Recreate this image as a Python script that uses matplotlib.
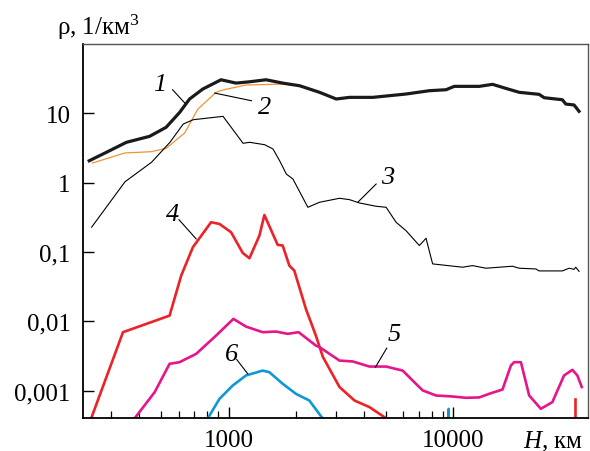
import matplotlib
matplotlib.use('Agg')
import matplotlib.pyplot as plt
from matplotlib.ticker import FixedLocator, NullLocator, NullFormatter

plt.rcParams['font.family'] = ['Liberation Serif', 'DejaVu Serif']
plt.rcParams['mathtext.fontset'] = 'custom'
plt.rcParams['mathtext.rm'] = 'Liberation Serif'
plt.rcParams['mathtext.it'] = 'Liberation Serif:italic'

# кривая 1 (суммарная плотность)
h1 = [239, 285, 350, 444, 526, 604, 669, 766, 924, 1077, 1236, 1465, 1738, 2068, 2537,
      3010, 3450, 4378, 6160, 7820, 9280, 10100, 13050, 14950, 17150, 19650, 24100,
      25400, 30600, 31700, 34500, 36300]
rho1 = [2.07, 2.74, 3.82, 4.66, 6.29, 10.3, 16.1, 22.4, 30.5, 27.3, 28.5, 30.5, 27.3, 25.0,
        20.1, 16.1, 17.0, 17.0, 19.0, 21.2, 21.9, 24.5, 24.5, 26.2, 22.9, 20.1, 18.8,
        16.8, 15.7, 13.6, 13.2, 10.7]

# кривая 2
h2 = [247, 344, 452, 526, 636, 728, 878, 940, 1194, 1738, 2068]
rho2 = [1.92, 2.68, 2.80, 3.13, 5.20, 11.5, 20.1, 21.7, 25.6, 26.4, 25.0]

# кривая 3
h3 = [245, 345, 453, 547, 627, 694, 943, 1158, 1240, 1445, 1574, 1685, 1805, 1931, 2250,
      2537, 3113, 3450, 3820, 4530, 5020, 5560, 6160, 7060, 7560, 8090, 11000, 12180,
      13970, 18340, 19650, 23310, 24100, 30600, 32780, 34500, 35100, 36300]
rho3 = [0.228, 1.03, 1.97, 3.82, 7.01, 8.09, 9.05, 3.70, 3.82, 3.53, 3.06, 2.07, 1.33, 1.13,
        0.442, 0.522, 0.596, 0.569, 0.510, 0.457, 0.442, 0.269, 0.203, 0.124, 0.158,
        0.0674, 0.0604, 0.0637, 0.0584, 0.0624, 0.0584, 0.0570, 0.0534, 0.0534, 0.0584,
        0.0563, 0.0604, 0.0526]

# кривая 4
h4 = [244, 338, 545, 614, 692, 834, 909, 1024, 1154, 1236, 1369, 1441, 1651, 1738, 1861,
      1958, 2206, 2443, 2624, 3113, 3631, 4233, 5020]
rho4 = [0.0004, 0.00698, 0.0121, 0.0457, 0.117, 0.269, 0.254, 0.193, 0.097, 0.0814, 0.172,
        0.342, 0.127, 0.124, 0.0637, 0.054, 0.0151, 0.00624, 0.00308, 0.00113, 0.000722,
        0.00058, 0.0004]
h4b = [34800, 34800]
rho4b = [0.00076, 0.0003]

# кривая 5
h5 = [381, 468, 545, 604, 716, 878, 1049, 1194, 1416, 1623, 1829, 2047, 2443, 2537, 3113,
      3567, 4233, 5020, 5953, 6593, 7305, 8377, 9930, 11390, 13050, 14450, 16560, 18050,
      18670, 20000, 21770, 24540, 27620, 31130, 33900, 35680, 37330]
rho5 = [0.0004, 0.000955, 0.00244, 0.00258, 0.0034, 0.00624, 0.01086, 0.0084, 0.00698,
        0.00713, 0.00661, 0.00698, 0.00448, 0.00425, 0.00272, 0.00264, 0.00223, 0.00223,
        0.00195, 0.0014, 0.00101, 0.000853, 0.000825, 0.00079, 0.0008, 0.000902, 0.00104,
        0.00231, 0.00258, 0.00258, 0.000853, 0.000548, 0.000685, 0.00166, 0.002, 0.00166,
        0.00113]

# кривая 6
h6 = [807, 909, 1042, 1194, 1416, 1516, 1738, 1991, 2284, 2616]
rho6 = [0.0004, 0.000764, 0.00119, 0.00166, 0.00195, 0.00185, 0.00126, 0.000902, 0.000722,
        0.0004]
h6b = [9450, 9530, 9610]
rho6b = [0.0003, 0.00055, 0.0003]

xticks = [1000, 10000]
xlabels = ['1000', '10000']
xminor = [300, 400, 500, 600, 700, 800, 900, 2000, 3000, 4000, 5000, 6000, 7000, 8000, 9000]
yticks = [0.001, 0.01, 0.1, 1, 10]
ylabels = ['0,001', '0,01', '0,1', '1', '10']

W, H = 590, 452
fig = plt.figure(figsize=(W / 100, H / 100), dpi=100)
ax = fig.add_axes([83.3 / W, 1 - 419.3 / H, (588.5 - 83.3) / W, (419.3 - 45) / H])
ax.set_xscale('log')
ax.set_yscale('log')

ax.plot(h2, rho2, color='#f0913a', lw=0.9)
ax.plot(h3, rho3, color='black', lw=0.8)
ax.plot(h1, rho1, color='#1a1a1a', lw=2.3)
ax.plot(h4, rho4, color='#ec2227', lw=1.9)
ax.plot(h4b, rho4b, color='#ec2227', lw=1.9)
ax.plot(h5, rho5, color='#e5158a', lw=1.9)
ax.plot(h6, rho6, color='#0f98d6', lw=1.9)
ax.plot(h6b, rho6b, color='#0f98d6', lw=1.6)

ax.set_xlim(225, 40000)
ax.set_ylim(0.0004, 100)

ax.xaxis.set_major_locator(FixedLocator(xticks))
ax.set_xticklabels(xlabels)
ax.xaxis.set_minor_locator(FixedLocator(xminor))
ax.xaxis.set_minor_formatter(NullFormatter())
ax.yaxis.set_major_locator(FixedLocator(yticks))
ax.set_yticklabels(ylabels)
ax.yaxis.set_minor_locator(NullLocator())

ax.tick_params(which='major', direction='in', length=8, width=1.0, labelsize=18, pad=9)
ax.tick_params(which='minor', direction='in', length=5, width=0.9)
ax.tick_params(axis='x', which='major', pad=8)

for s in ['left', 'bottom']:
    ax.spines[s].set_linewidth(1.3)
    ax.spines[s].set_color('black')
for s in ['top', 'right']:
    ax.spines[s].set_linewidth(1.0)
    ax.spines[s].set_color('#555555')

# подписи кривых с выносками
labels = [
    ('1', (494, 26.4), (562, 21.9), (637, 14.1)),
    ('2', (1445, 12.3), (1262, 15.2), (866, 19.6)),
    ('3', (5105, 1.20), (4533, 0.957), (3755, 0.522)),
    ('4', (564, 0.354), (600, 0.293), (716, 0.1545)),
    ('5', (5466, 0.00661), (5053, 0.00411), (4502, 0.00219)),
    ('6', (1024, 0.0034), (1085, 0.00282), (1215, 0.00175)),
]
for txt, pos, p0, p1 in labels:
    ax.text(pos[0], pos[1], txt, fontsize=19, fontstyle='italic', ha='center', va='center')
    ax.plot([p0[0], p1[0]], [p0[1], p1[1]], color='black', lw=0.8)

fig.text(57 / W, 1 - 35 / H, 'ρ, 1/км$^{3}$', fontsize=18, ha='left', va='baseline')
fig.text(583 / W, 1 - 448 / H, '$\\mathit{H}$, км', fontsize=18, ha='right', va='baseline')

fig.savefig('out.png', dpi=100)
